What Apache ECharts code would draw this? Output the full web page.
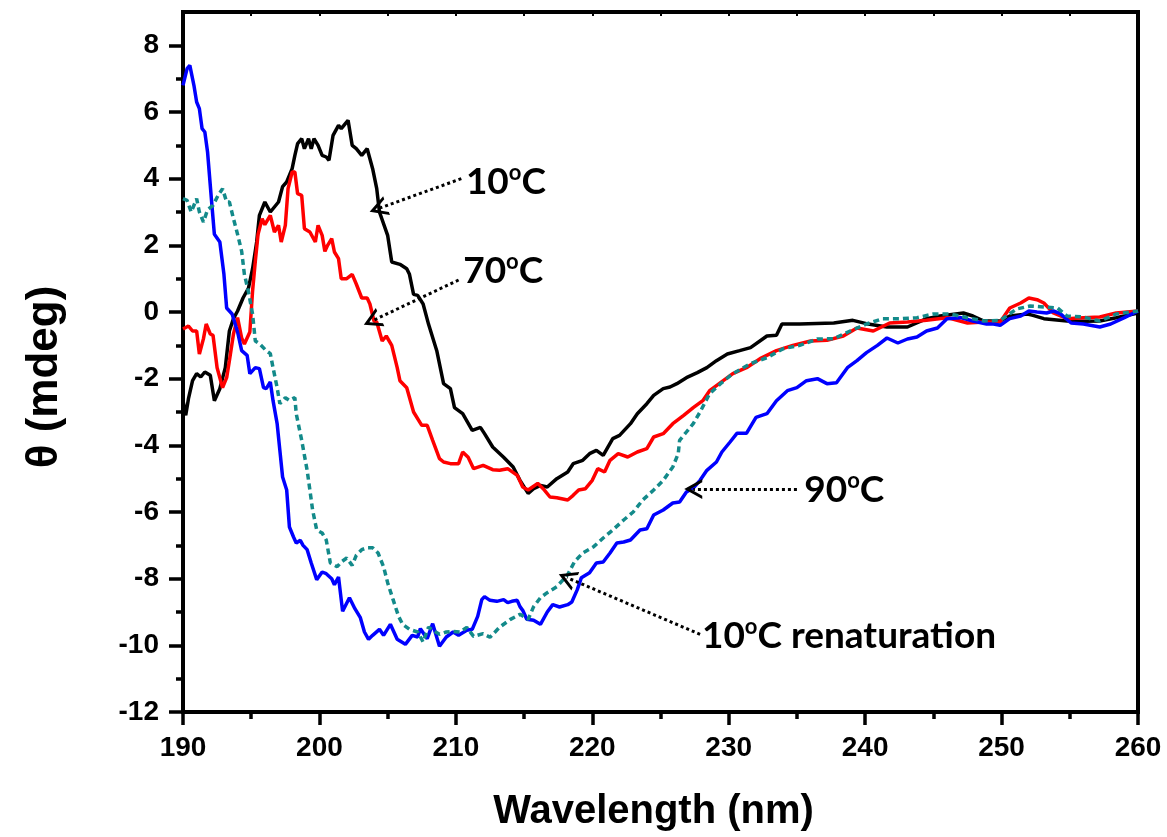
<!DOCTYPE html>
<html>
<head>
<meta charset="utf-8">
<script src="https://cdn.jsdelivr.net/npm/echarts@6/dist/echarts.min.js"></script>
<style>
  html, body { margin: 0; padding: 0; background: #fff; }
  #chart { width: 1167px; height: 837px; }
</style>
</head>
<body>
<div id="chart"></div>
<script>
// CD spectra
const wl10 = [190.0,190.2,190.4,190.7,191.0,191.3,191.6,192.0,192.3,192.7,193.1,193.4,193.7,194.0,194.4,194.8,195.1,195.4,195.6,196.0,196.4,197.0,197.3,197.6,198.0,198.2,198.4,198.7,198.9,199.2,199.4,199.6,199.9,200.2,200.5,200.7,201.0,201.4,201.6,201.9,202.1,202.4,202.7,203.1,203.5,203.7,203.9,204.2,204.4,205.0,205.3,205.9,206.4,206.6,206.9,207.2,207.6,208.0,208.6,209.1,209.6,209.9,210.5,211.2,211.8,212.1,212.7,213.5,214.2,214.7,215.3,215.7,216.2,216.7,217.4,218.2,218.6,219.3,219.8,220.3,220.8,221.5,222.0,222.8,223.3,224.0,224.5,225.2,225.7,226.2,226.9,227.7,228.4,229.1,229.9,230.8,231.6,232.8,233.5,233.9,235.2,237.7,239.1,240.1,241.6,243.1,244.5,245.5,247.2,247.9,248.7,249.9,250.6,251.9,252.3,253.1,254.8,256.0,257.2,258.4,260.0]
const th10 = [-2.66,-3.1,-2.6,-2.06,-1.85,-1.95,-1.8,-1.9,-2.66,-2.3,-1.67,-0.57,-0.2,0.03,0.42,0.72,1.3,2.1,2.9,3.3,3.0,3.3,3.76,3.9,4.3,4.7,5.05,5.2,4.9,5.2,4.9,5.2,5.0,4.7,4.65,4.55,5.3,5.6,5.5,5.65,5.75,5.0,4.9,4.7,4.9,4.6,4.3,3.7,3.0,2.3,1.5,1.43,1.3,1.13,0.53,0.5,0.24,-0.37,-1.16,-2.15,-2.3,-2.87,-3.05,-3.55,-3.46,-3.65,-4.05,-4.36,-4.65,-5.05,-5.44,-5.3,-5.2,-5.25,-5.0,-4.8,-4.55,-4.45,-4.25,-4.15,-4.3,-3.8,-3.7,-3.35,-3.05,-2.75,-2.5,-2.3,-2.25,-2.15,-1.97,-1.82,-1.67,-1.46,-1.26,-1.16,-1.07,-0.72,-0.7,-0.36,-0.36,-0.33,-0.25,-0.35,-0.45,-0.45,-0.2,-0.12,-0.03,-0.12,-0.27,-0.27,-0.12,-0.06,-0.1,-0.2,-0.27,-0.28,-0.27,-0.17,-0.03]

const wl70 = [190.0,190.4,190.7,191.0,191.2,191.5,191.7,192.0,192.2,192.5,192.9,193.2,193.4,193.7,194.0,194.3,194.5,194.9,195.1,195.3,195.5,195.8,196.0,196.4,196.7,197.0,197.2,197.5,197.7,198.0,198.2,198.4,198.7,198.9,199.3,199.7,199.9,200.2,200.4,200.6,200.9,201.1,201.4,201.6,202.0,202.4,202.7,203.1,203.5,203.7,204.0,204.2,204.6,204.9,205.3,205.7,205.9,206.4,206.9,207.5,207.9,208.3,208.8,209.1,209.6,210.2,210.5,210.9,211.3,212.0,212.7,213.2,213.8,214.5,214.9,215.3,216.0,216.4,216.9,217.4,218.2,218.6,219.0,219.5,220.0,220.4,220.9,221.3,221.9,222.6,223.3,224.0,224.5,225.2,225.9,226.7,227.4,228.1,228.6,229.6,230.3,231.3,232.3,233.5,234.7,236.0,237.2,238.4,239.4,240.6,241.8,243.1,244.5,246.0,247.5,248.7,249.9,250.6,251.4,252.0,252.6,253.1,253.8,254.8,256.0,257.2,258.4,260.0]
const th70 = [-0.51,-0.42,-0.57,-0.57,-1.26,-0.8,-0.36,-0.66,-0.7,-1.67,-2.27,-1.97,-1.46,-0.66,-0.17,-0.78,-0.96,-0.6,0.63,1.52,2.33,2.8,2.62,2.9,2.4,2.6,2.1,2.6,3.7,4.2,4.2,3.55,3.5,2.5,2.4,2.1,2.6,2.3,1.82,2.0,2.2,1.8,1.6,1.0,1.0,1.13,0.84,0.42,0.42,0.24,-0.27,-0.3,-0.87,-0.72,-1.0,-1.67,-2.06,-2.27,-3.0,-3.4,-3.4,-3.85,-4.4,-4.5,-4.55,-4.55,-4.2,-4.36,-4.7,-4.6,-4.73,-4.75,-4.7,-4.9,-5.25,-5.34,-5.14,-5.3,-5.55,-5.57,-5.64,-5.5,-5.34,-5.3,-5.05,-4.7,-4.8,-4.45,-4.25,-4.35,-4.2,-4.1,-3.75,-3.65,-3.35,-3.1,-2.87,-2.66,-2.36,-2.06,-1.85,-1.67,-1.4,-1.16,-1.0,-0.87,-0.85,-0.72,-0.48,-0.57,-0.33,-0.3,-0.25,-0.17,-0.33,-0.3,-0.3,0.12,0.27,0.42,0.37,0.27,-0.03,-0.2,-0.17,-0.15,-0.03,0.03]

const wl90 = [190.0,190.3,190.5,190.8,191.0,191.2,191.4,191.6,191.8,192.1,192.3,192.7,193.0,193.2,193.6,194.0,194.3,194.7,194.9,195.3,195.6,195.9,196.1,196.4,196.6,196.9,197.1,197.3,197.6,197.8,198.1,198.3,198.6,198.8,199.1,199.4,199.8,200.2,200.5,200.9,201.1,201.4,201.7,202.2,202.6,203.0,203.3,203.6,203.9,204.4,204.7,205.2,205.7,206.3,206.8,207.2,207.4,207.9,208.3,208.8,209.3,209.8,210.2,210.8,211.2,211.6,211.9,212.1,212.5,213.0,213.5,213.8,214.1,214.5,214.7,214.9,215.2,215.7,216.2,216.7,217.1,217.6,218.2,218.5,218.9,219.2,219.8,220.3,220.8,221.3,221.8,222.3,222.8,223.5,224.0,224.5,225.2,225.9,226.4,226.9,227.4,227.9,228.4,229.1,229.5,230.1,230.6,231.3,232.0,232.8,233.5,234.3,235.0,235.7,236.5,237.2,237.9,238.7,239.4,240.1,240.9,241.6,242.4,243.1,243.8,244.5,245.3,246.0,247.0,247.9,248.9,249.4,249.9,250.6,251.4,252.0,252.6,253.3,253.8,254.3,255.1,256.0,257.2,258.0,259.0,260.0]
const th90 = [6.8,7.3,7.4,6.8,6.3,6.1,5.5,5.4,4.8,3.3,2.33,2.1,1.13,0.12,-0.06,-0.6,-1.16,-1.3,-1.85,-1.67,-1.7,-2.27,-2.3,-2.1,-2.66,-3.35,-4.15,-4.95,-5.34,-6.45,-6.75,-6.93,-6.85,-7.0,-7.13,-7.53,-8.03,-7.8,-7.85,-8.0,-8.18,-7.95,-8.98,-8.57,-8.9,-9.17,-9.6,-9.82,-9.7,-9.52,-9.7,-9.37,-9.82,-9.97,-9.7,-9.75,-9.5,-9.8,-9.35,-10.03,-9.75,-9.6,-9.7,-9.55,-9.52,-9.13,-8.63,-8.54,-8.65,-8.68,-8.63,-8.72,-8.68,-8.65,-8.84,-8.95,-9.22,-9.25,-9.37,-9.0,-8.78,-8.85,-8.78,-8.7,-8.33,-7.97,-7.82,-7.53,-7.5,-7.23,-6.93,-6.9,-6.84,-6.54,-6.5,-6.09,-5.94,-5.73,-5.7,-5.4,-5.28,-5.05,-4.75,-4.5,-4.2,-3.9,-3.64,-3.64,-3.16,-3.05,-2.66,-2.36,-2.27,-2.06,-2.0,-2.15,-2.12,-1.67,-1.46,-1.22,-1.0,-0.78,-0.93,-0.81,-0.75,-0.57,-0.48,-0.2,-0.17,-0.27,-0.36,-0.36,-0.4,-0.2,-0.12,0.03,0.0,-0.03,0.03,-0.05,-0.33,-0.36,-0.45,-0.36,-0.17,0.03]

const wlRen = [190.0,190.3,190.6,191.0,191.2,191.5,191.8,192.2,192.6,192.9,193.2,193.4,193.7,194.0,194.3,194.5,194.8,195.1,195.3,195.6,196.1,196.4,196.6,196.9,197.1,197.5,197.8,198.2,198.3,198.7,199.1,199.3,199.5,199.8,200.2,200.5,200.8,201.3,201.6,202.0,202.4,202.7,203.1,203.5,203.9,204.3,204.7,205.0,205.4,205.8,206.1,206.6,207.2,207.6,208.0,208.3,208.8,209.3,209.8,210.3,210.8,211.3,212.0,212.5,213.2,214.0,214.7,215.3,215.7,216.2,216.7,217.4,218.2,218.7,219.3,220.1,220.8,221.5,222.3,223.0,223.7,224.5,225.2,225.9,226.3,226.4,226.9,227.4,227.9,228.6,229.4,230.3,231.6,232.8,234.0,235.2,236.5,237.7,238.9,240.1,241.3,242.6,243.8,245.0,246.2,247.5,248.7,249.9,251.1,252.1,253.1,254.1,254.8,256.0,257.2,258.4,260.0]
const thRen = [3.4,3.35,3.0,3.4,3.0,2.7,3.07,3.2,3.52,3.7,3.3,3.3,2.8,2.33,1.82,1.13,0.6,-0.06,-0.87,-0.95,-1.16,-1.25,-1.67,-2.27,-2.75,-2.57,-2.65,-2.57,-3.05,-3.85,-4.75,-5.34,-5.94,-6.54,-6.63,-6.84,-7.53,-7.64,-7.5,-7.38,-7.6,-7.3,-7.13,-7.07,-7.07,-7.23,-7.64,-8.12,-8.63,-9.13,-9.37,-9.52,-9.6,-9.9,-9.45,-9.55,-9.67,-9.6,-9.58,-9.6,-9.46,-9.73,-9.65,-9.76,-9.46,-9.22,-9.07,-9.22,-8.84,-8.57,-8.42,-8.24,-7.88,-7.49,-7.23,-7.04,-6.78,-6.54,-6.24,-6.0,-5.64,-5.34,-5.05,-4.65,-4.25,-3.85,-3.6,-3.35,-3.0,-2.45,-2.15,-1.85,-1.55,-1.37,-1.1,-1.0,-0.81,-0.8,-0.57,-0.36,-0.2,-0.2,-0.17,-0.06,-0.06,-0.17,-0.27,-0.25,0.09,0.18,0.15,0.12,-0.12,-0.15,-0.27,-0.06,0.03]

const yMajor = [-12,-10,-8,-6,-4,-2,0,2,4,6,8]
const yMinor = [-11,-9,-7,-5,-3,-1,1,3,5,7]

// annotation text, arrow tail / tip, text anchor (data units)
const annoText = ['10{s|o}C', '70{s|o}C', '90{s|o}C', '10{s|o}C renaturation']
const annoTail = [[210.4, 4.0], [210.2, 0.96], [235.0, -5.31], [227.9, -9.67]]
const annoTip = [[204.3, 3.1], [203.85, -0.27], [227.4, -5.31], [218.15, -7.97]]
const annoAt = [[210.7, 3.9], [210.5, 1.22], [235.5, -5.34], [228.0, -9.73]]

const zip = (xs, ys) => xs.map((x, i) => [x, ys[i]])

const chart = echarts.init(document.getElementById('chart'))

// open "V" arrow head, apex up (markLine turns it along the line)
const chevron = 'path://M50,0 L100,100 L84,100 L50,34 L16,100 L0,100 Z'

function line(name, xs, ys, color, type) {
  return {
    name: name,
    type: 'line',
    data: zip(xs, ys),
    showSymbol: false,
    symbol: 'none',
    lineStyle: { color: color, width: 3.5, type: type || 'solid' },
    itemStyle: { color: color },
    z: 3
  }
}

const series = [
  line('10C', wl10, th10, '#000000'),
  line('70C', wl70, th70, '#ff0000'),
  line('90C', wl90, th90, '#0000ff'),
  line('ren', wlRen, thRen, '#138a8a', [6, 4])
]

// arrows + labels live on a dummy series
series.push({
  type: 'line',
  data: [],
  markLine: {
    silent: true,
    animation: false,
    symbol: ['none', chevron],
    symbolSize: [20, 18],
    symbolOffset: [0, 0],
    lineStyle: { color: '#000', width: 3, type: [3, 3] },
    label: { show: false },
    data: annoTail.map((t, i) => [{ coord: t }, { coord: annoTip[i] }])
  },
  markPoint: {
    silent: true,
    animation: false,
    symbol: 'circle',
    symbolSize: 1,
    itemStyle: { color: 'rgba(0,0,0,0)' },
    label: {
      show: true,
      position: 'right',
      distance: 0,
      color: '#000',
      fontFamily: 'Lato',
      fontWeight: 'bold',
      fontSize: 37,
      rich: {
        s: { fontSize: 22, fontWeight: 'bold', fontFamily: 'Lato', verticalAlign: 'top', lineHeight: 40 }
      }
    },
    data: annoAt.map((p, i) => ({ coord: p, label: { formatter: annoText[i] } }))
  }
})

const tickFont = { fontFamily: 'Liberation Sans', fontWeight: 'bold', color: '#000' }

chart.setOption({
  animation: false,
  grid: {
    left: 183, right: 29, top: 12, bottom: 125,
    show: true, borderColor: '#000', borderWidth: 4, backgroundColor: 'transparent'
  },
  xAxis: [{
    type: 'value',
    min: 190, max: 260, interval: 10,
    name: 'Wavelength (nm)',
    nameLocation: 'middle',
    nameGap: 80,
    nameTextStyle: Object.assign({ fontSize: 40, padding: [0, 0, 0, -14] }, tickFont),
    axisLine: { onZero: false, lineStyle: { color: '#000', width: 4 } },
    axisTick: { inside: false, length: 13, lineStyle: { color: '#000', width: 3.5 } },
    minorTick: { show: true, splitNumber: 2, length: 7, lineStyle: { color: '#000', width: 3.5 } },
    splitLine: { show: false },
    minorSplitLine: { show: false },
    axisLabel: Object.assign({ margin: 22, fontSize: 28 }, tickFont)
  }, {
    type: 'value',
    position: 'top',
    min: 190, max: 260, interval: 5,
    axisLine: { show: false, onZero: false },
    axisTick: { inside: true, length: 4, lineStyle: { color: '#000', width: 2 } },
    axisLabel: { show: false },
    splitLine: { show: false }
  }],
  yAxis: [{
    type: 'value',
    min: -12, max: 9, interval: 2,
    name: 'θ (mdeg)',
    nameLocation: 'middle',
    nameGap: 116,
    nameTextStyle: Object.assign({ fontSize: 44, padding: [0, 30, 0, 0] }, tickFont),
    axisLine: { show: true, onZero: false, lineStyle: { color: '#000', width: 4 } },
    axisTick: { show: true, inside: false, length: 14, customValues: yMajor, lineStyle: { color: '#000', width: 3.5 } },
    axisLabel: Object.assign({ margin: 24, customValues: yMajor, fontSize: 28 }, tickFont),
    splitLine: { show: false }
  }, {
    type: 'value',
    position: 'left',
    min: -12, max: 9, interval: 1,
    axisLine: { show: false, onZero: false },
    axisTick: { show: true, inside: false, length: 7, customValues: yMinor, lineStyle: { color: '#000', width: 3.5 } },
    axisLabel: { show: false },
    splitLine: { show: false }
  }],
  series: series
})
</script>
</body>
</html>
